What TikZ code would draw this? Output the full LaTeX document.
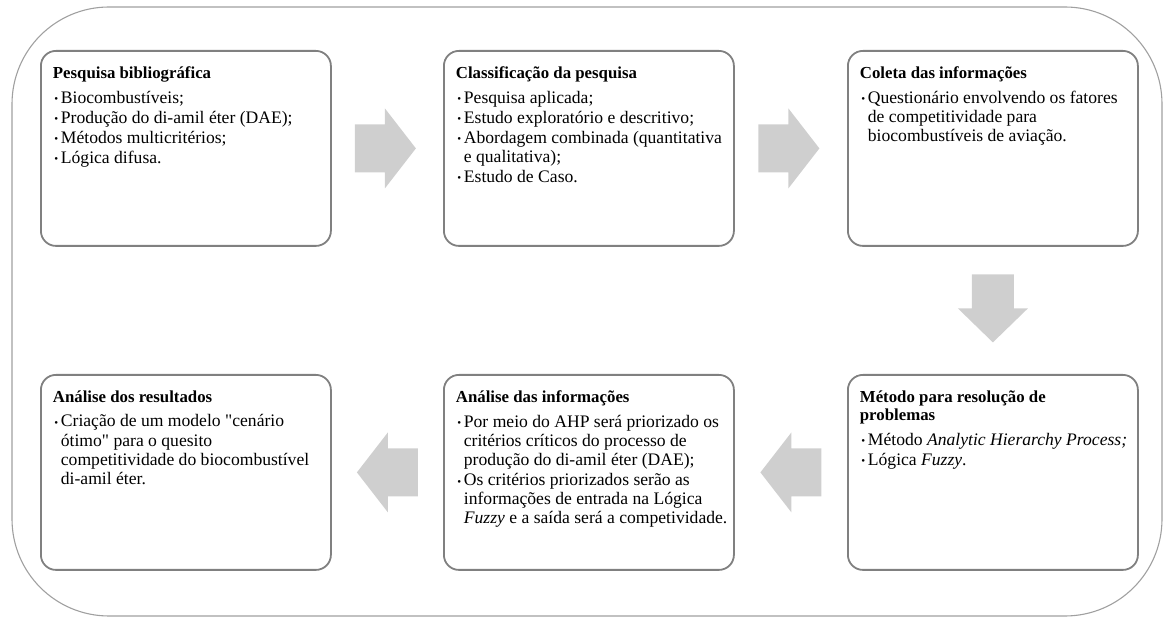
\documentclass[tikz,border=0pt]{standalone}
\usepackage{fontspec}
\setmainfont{Liberation Serif}
\usetikzlibrary{calc}

\definecolor{framegray}{RGB}{160,160,160}
\definecolor{boxgray}{RGB}{128,128,128}
\definecolor{arrowgray}{RGB}{207,207,207}

% straight double quote, set by glyph so no ligature mapping curls it
\newcommand\dq{\XeTeXglyph\XeTeXcharglyph"22\relax}

% text block of one stage: bold title, then bullet items
\newcommand\stagetitle[1]{{\fontsize{16.8}{18}\selectfont\bfseries #1\par}\vspace{5.7pt}}
\newcommand\stageitem[1]{\hangindent=8pt\hangafter=1\noindent\makebox[8pt][l]{\hspace{1.5pt}\raisebox{0.5pt}{\fontsize{11}{11}\selectfont •}}#1\par\vspace{0.8pt}}
\newcommand\stagebody[1]{\makebox[266pt][l]{\begin{minipage}[c][195pt][t]{300pt}\raggedright
  \fontsize{17.6}{19.2}\selectfont\vspace*{15.5pt}#1\end{minipage}}}

\begin{document}
\begin{tikzpicture}[x=1pt,y=-1pt,
  frame/.style={draw=framegray, line width=1.1pt, rounded corners=97pt},
  stage/.style={draw=boxgray, line width=1.8pt, rounded corners=15pt, fill=white,
    anchor=north west, inner xsep=12pt, inner ysep=0pt,
    minimum width=290pt, minimum height=195pt},
  hblock/.pic={\fill[arrowgray] (-30.5,-24) -- (-0.5,-24) -- (-0.5,-40) -- (30.5,0)
    -- (-0.5,40) -- (-0.5,24) -- (-30.5,24) -- cycle;},
  vblock/.pic={\fill[arrowgray] (-21,-34) -- (21,-34) -- (21,0) -- (35,0) -- (0,34)
    -- (-35,0) -- (-21,0) -- cycle;}
]
\useasboundingbox (0,0) rectangle (1163,617);

% outer frame
\draw[frame] (12,7) rectangle (1162,616);

% stages, top row
\node[stage] (b1) at (40,50) {\stagebody{%
  \stagetitle{Pesquisa bibliográfica}
  \stageitem{Biocombustíveis;}
  \stageitem{Produção do di-amil éter (DAE);}
  \stageitem{Métodos multicritérios;}
  \stageitem{Lógica difusa.}}};

\node[stage] (b2) at (443,50) {\stagebody{%
  \stagetitle{Classificação da pesquisa}
  \stageitem{Pesquisa aplicada;}
  \stageitem{Estudo exploratório e descritivo;}
  \stageitem{Abordagem combinada (quantitativa\newline e qualitativa);}
  \stageitem{Estudo de Caso.}}};

\node[stage] (b3) at (847,50) {\stagebody{%
  \stagetitle{Coleta das informações}
  \stageitem{Questionário envolvendo os fatores\newline de competitividade para\newline biocombustíveis de aviação.}}};

% stages, bottom row
\node[stage] (b4) at (847,374) {\stagebody{%
  \stagetitle{Método para resolução de\\ problemas}
  \stageitem{Método \textit{Analytic Hierarchy Process;}}
  \stageitem{Lógica \textit{Fuzzy}.}}};

\node[stage] (b5) at (443,374) {\stagebody{%
  \stagetitle{Análise das informações}
  \stageitem{Por meio do AHP será priorizado os\newline critérios críticos do processo de\newline produção do di-amil éter (DAE);}
  \stageitem{Os critérios priorizados serão as\newline informações de entrada na Lógica\newline \textit{Fuzzy} e a saída será a competividade.}}};

\node[stage] (b6) at (40,374) {\stagebody{%
  \stagetitle{Análise dos resultados}
  \stageitem{Criação de um modelo \dq cenário\newline ótimo\dq{} para o quesito\newline competitividade do biocombustível\newline di-amil éter.}}};

% flow arrows between stages
\coordinate (m12) at ($(b1.east)!0.5!(b2.west)+(-2,0)$);
\coordinate (m23) at ($(b2.east)!0.5!(b3.west)+(-2,0)$);
\coordinate (m34) at ($(b3.south)!0.5!(b4.north)+(0,-2)$);
\coordinate (m45) at ($(b4.west)!0.5!(b5.east)$);
\coordinate (m56) at ($(b5.west)!0.5!(b6.east)$);
\pic at (m12) {hblock};
\pic at (m23) {hblock};
\pic at (m34) {vblock};
\pic[xscale=-1] at (m45) {hblock};
\pic[xscale=-1] at (m56) {hblock};
\end{tikzpicture}
\end{document}
